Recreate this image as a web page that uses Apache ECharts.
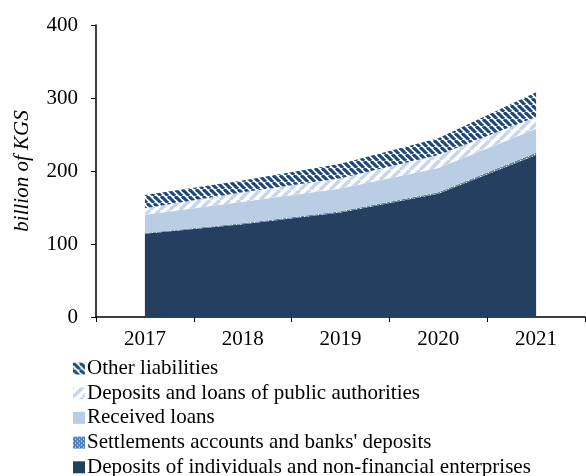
<!DOCTYPE html>
<html><head><meta charset="utf-8">
<script src="https://cdn.jsdelivr.net/npm/echarts@6/dist/echarts.min.js"></script>
<style>html,body{margin:0;padding:0;background:#fff}#c{width:586px;height:476px}</style>
</head><body><div id="c"></div>
<script>
const years = ['2017','2018','2019','2020','2021'];
const individualsDeposits = [114,127,143,169,222];
const settlementsDeposits = [1,1.5,2,2,3];
const receivedLoans = [25,29.5,31,33,33];
const publicAuthorities = [9,13,14,18,16];
const otherLiabilities = [18,16,20,23,34];
const yTicks = [0,100,200,300,400];

function stripes(size, fg, bg, width, dir){
  const c=document.createElement('canvas');c.width=size;c.height=size;
  const g=c.getContext('2d');g.fillStyle=bg;g.fillRect(0,0,size,size);
  g.strokeStyle=fg;g.lineWidth=width;
  for(let k=-1;k<=1;k++){
    g.beginPath();
    if(dir>0){g.moveTo(k*size,0);g.lineTo(k*size+size,size);}
    else{g.moveTo(k*size,size);g.lineTo(k*size+size,0);}
    g.stroke();
  }
  return {image:c,repeat:'repeat'};
}
function dots(){
  const c=document.createElement('canvas');c.width=4;c.height=4;
  const g=c.getContext('2d');g.fillStyle='#4F81BD';g.fillRect(0,0,4,4);
  g.fillStyle='#ffffff';g.fillRect(0,0,1,1);g.fillRect(2,2,1,1);
  return {image:c,repeat:'repeat'};
}
const pOther = stripes(7,'#1F497D','#ffffff',3.2,1);
const pPublic = stripes(10,'#C6D6EC','#ffffff',3.5,-1);
const pSettle = dots();

function s(name,data,color){
  return {name,type:'line',stack:'t',data,symbol:'none',smooth:false,
    lineStyle:{width:0},itemStyle:{color},areaStyle:{color,opacity:1}};
}
const chart=echarts.init(document.getElementById('c'));
const font='"Liberation Serif","Times New Roman",serif';
chart.setOption({
  animation:false,
  grid:{left:96,top:25,right:1,bottom:159},
  legend:{orient:'vertical',left:68,top:353,height:200,itemGap:3.7,itemWidth:12,itemHeight:12,icon:'rect',
    textStyle:{fontFamily:font,fontSize:21,lineHeight:21,color:'#000',padding:[0,0,0,-3]},
    data:['Other liabilities','Deposits and loans of public authorities','Received loans',"Settlements accounts and banks' deposits",'Deposits of individuals and non-financial enterprises']},
  xAxis:{type:'category',data:years,boundaryGap:true,
    axisLine:{lineStyle:{color:'#000',width:1.5}},
    axisTick:{show:true,length:5,lineStyle:{color:'#000'}},
    axisLabel:{fontFamily:font,fontSize:21,color:'#000',margin:12}},
  yAxis:{type:'value',min:0,max:400,interval:100,
    name:'billion of KGS',nameLocation:'middle',nameGap:63,
    nameTextStyle:{fontFamily:font,fontSize:21,fontStyle:'italic',color:'#000'},
    axisLine:{show:true,lineStyle:{color:'#000',width:1.5}},
    axisTick:{show:true,length:5,lineStyle:{color:'#000'}},
    splitLine:{show:false},
    axisLabel:{fontFamily:font,fontSize:21,color:'#000',margin:18,
      formatter:v=>yTicks.includes(v)?String(v):''}},
  series:[
    s('Deposits of individuals and non-financial enterprises',individualsDeposits,'#243F60'),
    s("Settlements accounts and banks' deposits",settlementsDeposits,pSettle),
    s('Received loans',receivedLoans,'#B9CDE5'),
    s('Deposits and loans of public authorities',publicAuthorities,pPublic),
    s('Other liabilities',otherLiabilities,pOther)
  ]
});
</script></body></html>
